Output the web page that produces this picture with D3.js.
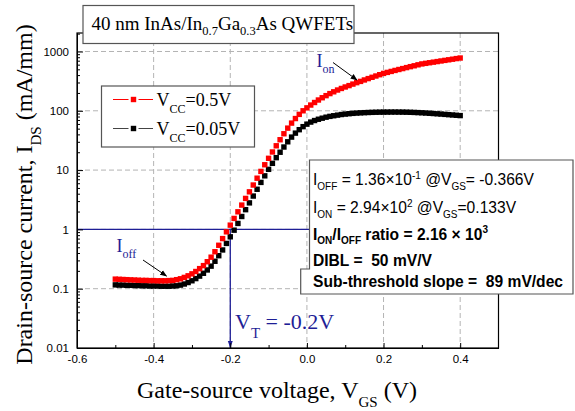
<!DOCTYPE html>
<html>
<head>
<meta charset="utf-8">
<script src="https://cdn.jsdelivr.net/npm/d3@7"></script>
<style>
  body { margin: 0; background: #fff; }
  text { white-space: pre; }
</style>
</head>
<body>
<svg id="chart" width="575" height="411"></svg>
<script>
// Gate-source voltage sweep (V)
const vgs = [
  -0.50, -0.49, -0.48, -0.47, -0.46, -0.45, -0.44, -0.43, -0.42, -0.41,
  -0.40, -0.39, -0.38, -0.37, -0.36, -0.35, -0.34, -0.33, -0.32, -0.31,
  -0.30, -0.29, -0.28, -0.27, -0.26, -0.25, -0.24, -0.23, -0.22, -0.21,
  -0.20, -0.19, -0.18, -0.17, -0.16, -0.15, -0.14, -0.13, -0.12, -0.11,
  -0.10, -0.09, -0.08, -0.07, -0.06, -0.05, -0.04, -0.03, -0.02, -0.01,
   0.00,  0.01,  0.02,  0.03,  0.04,  0.05,  0.06,  0.07,  0.08,  0.09,
   0.10,  0.11,  0.12,  0.13,  0.14,  0.15,  0.16,  0.17,  0.18,  0.19,
   0.20,  0.21,  0.22,  0.23,  0.24,  0.25,  0.26,  0.27,  0.28,  0.29,
   0.30,  0.31,  0.32,  0.33,  0.34,  0.35,  0.36,  0.37,  0.38,  0.39,
   0.40
];
// Drain current (mA/mm) at VCC = 0.5 V
const idsVcc05 = [
  0.145, 0.144, 0.143, 0.142, 0.141, 0.140, 0.139, 0.138, 0.138, 0.137,
  0.137, 0.136, 0.136, 0.136, 0.137, 0.138, 0.142, 0.147, 0.155, 0.165,
  0.178, 0.195, 0.218, 0.245, 0.285, 0.34, 0.42, 0.54, 0.70, 0.91,
  1.18, 1.53, 1.98, 2.57, 3.33, 4.3, 5.6, 7.3, 9.5, 12.3,
  15.8, 20.2, 25.7, 32.5, 41, 51, 62, 74, 87, 100,
  112, 125, 138, 152, 166, 180, 195, 209, 224, 238,
  252, 266, 282, 298, 313, 331, 349, 367, 386, 406,
  427, 444, 461, 479, 497, 515, 535, 555, 574, 596,
  617, 631, 646, 661, 676, 692, 708, 724, 741, 759,
  776
];
// Drain current (mA/mm) at VCC = 0.05 V
const idsVcc005 = [
  0.116, 0.115, 0.115, 0.114, 0.114, 0.113, 0.113, 0.112, 0.112, 0.111,
  0.111, 0.111, 0.110, 0.110, 0.110, 0.111, 0.112, 0.115, 0.120, 0.127,
  0.136, 0.148, 0.163, 0.182, 0.207, 0.24, 0.29, 0.36, 0.45, 0.58,
  0.75, 0.97, 1.26, 1.65, 2.15, 2.8, 3.65, 4.75, 6.2, 8.0,
  10.3, 13.0, 16.2, 20, 24.5, 30, 36, 42, 48, 54,
  59.5, 64.5, 68.5, 72, 75, 78, 80.5, 82.5, 84.5, 86.5,
  88, 89.3, 90.5, 91.5, 92.3, 93, 93.6, 94.1, 94.5, 94.8,
  95, 95.1, 95.2, 95.2, 95.1, 95, 94.7, 94.3, 93.8, 93.2,
  92.5, 91.7, 90.8, 89.9, 89, 88, 87, 86, 85, 84,
  83
];
const seriesNames = ["=0.5V", "=0.05V"];
const xTickValues = [-0.6, -0.4, -0.2, 0.0, 0.2, 0.4];
const xTickLabels = ["-0.6", "-0.4", "-0.2", "0.0", "0.2", "0.4"];
const xMinorTicks = [-0.5, -0.3, -0.1, 0.1, 0.3];
const yTickValues = [0.01, 0.1, 1, 10, 100, 1000];
const yTickLabels = ["0.01", "0.1", "1", "10", "100", "1000"];
const thresholdVoltage = -0.2;
const thresholdCurrent = 1;

const svg = d3.select("#chart");
const X0 = 77, X1 = 498.5, Y0 = 348, Y1 = 33;
const x = d3.scaleLinear().domain([-0.6, 0.5]).range([X0, X1]);
const y = d3.scaleLog().domain([0.01, 2050]).range([Y0, Y1]);

const SERIF = "'Liberation Serif', 'Times New Roman', serif";
const SANS = "'Liberation Sans', Arial, sans-serif";
const BLUE = "#1e1e96";

// text with sub/superscript runs: [string, baselineShift, fontSize]
function richText(parent, px, py, parts, attrs) {
  const t = parent.append("text").attr("x", px).attr("y", py);
  Object.entries(attrs || {}).forEach(([k, v]) => t.attr(k, v));
  let cur = 0;
  parts.forEach(([s, shift = 0, size = null]) => {
    const ts = t.append("tspan").text(s).attr("dy", shift - cur);
    if (size) ts.attr("font-size", size);
    cur = shift;
  });
  return t;
}

const defs = svg.append("defs");
defs.append("marker").attr("id", "arrowBlack")
  .attr("viewBox", "0 0 10 10").attr("refX", 9).attr("refY", 5)
  .attr("markerWidth", 7).attr("markerHeight", 7).attr("markerUnits", "userSpaceOnUse")
  .attr("orient", "auto")
  .append("path").attr("d", "M0,1 L10,5 L0,9 Z").attr("fill", "#000");
defs.append("marker").attr("id", "arrowBlue")
  .attr("viewBox", "0 0 10 10").attr("refX", 10).attr("refY", 5)
  .attr("markerWidth", 7).attr("markerHeight", 9).attr("markerUnits", "userSpaceOnUse")
  .attr("orient", "auto")
  .append("path").attr("d", "M0,1.5 L10,5 L0,8.5 Z").attr("fill", BLUE);

// dashed grid
const grid = svg.append("g").attr("stroke", "#b4b4b4").attr("stroke-width", 1)
  .attr("stroke-dasharray", "5,3");
xTickValues.filter(v => v > -0.6).forEach(v => {
  grid.append("line").attr("x1", x(v)).attr("x2", x(v)).attr("y1", Y1).attr("y2", Y0);
});
yTickValues.filter(v => v > 0.01).forEach(v => {
  grid.append("line").attr("x1", X0).attr("x2", X1).attr("y1", y(v)).attr("y2", y(v));
});

// threshold guide lines
svg.append("line").attr("x1", X0).attr("x2", X1)
  .attr("y1", y(thresholdCurrent)).attr("y2", y(thresholdCurrent))
  .attr("stroke", BLUE).attr("stroke-width", 1.3);
svg.append("line").attr("x1", x(thresholdVoltage)).attr("x2", x(thresholdVoltage))
  .attr("y1", y(thresholdCurrent)).attr("y2", Y0)
  .attr("stroke", BLUE).attr("stroke-width", 1.3)
  .attr("marker-end", "url(#arrowBlue)");

// axes (ticks point inward)
svg.append("g").attr("transform", `translate(0,${Y0})`)
  .call(d3.axisBottom(x).tickValues(xTickValues)
    .tickFormat((d, i) => xTickLabels[i]).tickSize(-5).tickSizeOuter(0).tickPadding(7));
svg.append("g").attr("transform", `translate(0,${Y0})`)
  .call(d3.axisBottom(x).tickValues(xMinorTicks).tickFormat("").tickSize(-3).tickSizeOuter(0));
svg.append("g").attr("transform", `translate(${X0},0)`)
  .call(d3.axisLeft(y).tickValues(yTickValues)
    .tickFormat((d, i) => yTickLabels[i]).tickSize(-6).tickSizeOuter(0).tickPadding(8));
const yMinor = y.ticks().filter(v => !yTickValues.includes(v));
svg.append("g").attr("transform", `translate(${X0},0)`)
  .call(d3.axisLeft(y).tickValues(yMinor).tickFormat("").tickSize(-3).tickSizeOuter(0));
svg.selectAll(".tick text").attr("font-family", SANS).attr("font-size", 11.5).attr("fill", "#000");
svg.selectAll(".domain").attr("stroke", "#000");
svg.selectAll(".tick line").attr("stroke", "#000");

// plot frame
svg.append("rect").attr("x", X0).attr("y", Y1).attr("width", X1 - X0).attr("height", Y0 - Y1)
  .attr("fill", "none").attr("stroke", "#000").attr("stroke-width", 1.2);

// data markers
const MS = 5.4;
[[idsVcc005, "#000"], [idsVcc05, "#ff0000"]].forEach(([vals, col]) => {
  svg.append("g").selectAll("rect").data(vals).join("rect")
    .attr("x", (d, i) => x(vgs[i]) - MS / 2)
    .attr("y", d => y(d) - MS / 2)
    .attr("width", MS).attr("height", MS)
    .attr("fill", col);
});

// title box
svg.append("rect").attr("x", 83).attr("y", 5.5).attr("width", 271).attr("height", 38)
  .attr("fill", "#fff").attr("stroke", "#555").attr("stroke-width", 1.2);
richText(svg, 91.5, 29.5, [
  ["40 nm InAs/In"], ["0.7", 5, 12.5], ["Ga"], ["0.3", 5, 12.5], ["As QWFETs"]
], { "font-family": SERIF, "font-size": 19 });

// legend
const lg = svg.append("g");
lg.append("rect").attr("x", 101.5).attr("y", 86).attr("width", 153).attr("height", 61)
  .attr("fill", "#fff").attr("stroke", "#555").attr("stroke-width", 1.2);
[["#ff0000", "#ff0000", 99.5], ["#000", "#444", 128.5]].forEach(([col, lineCol, ly], i) => {
  lg.append("line").attr("x1", 113).attr("x2", 128.5).attr("y1", ly).attr("y2", ly)
    .attr("stroke", lineCol).attr("stroke-width", 1);
  lg.append("line").attr("x1", 138.5).attr("x2", 153).attr("y1", ly).attr("y2", ly)
    .attr("stroke", lineCol).attr("stroke-width", 1);
  lg.append("rect").attr("x", 133.5 - MS / 2).attr("y", ly - MS / 2)
    .attr("width", MS).attr("height", MS).attr("fill", col);
  richText(lg, 156.5, ly + 6.3, [["V"], ["CC", 7.5, 12], [seriesNames[i]]],
    { "font-family": SERIF, "font-size": 18 });
});

// I_on / I_off callouts
richText(svg, 116.5, 251.5, [["I"], ["off", 6.5, 12]],
  { "font-family": SERIF, "font-size": 18, fill: BLUE });
svg.append("line").attr("x1", 143).attr("y1", 260).attr("x2", 166.5).attr("y2", 276)
  .attr("stroke", "#000").attr("stroke-width", 1).attr("marker-end", "url(#arrowBlack)");
richText(svg, 316.5, 66.5, [["I"], ["on", 6.5, 12]],
  { "font-family": SERIF, "font-size": 18, fill: BLUE });
svg.append("line").attr("x1", 333).attr("y1", 62.5).attr("x2", 357).attr("y2", 80)
  .attr("stroke", "#000").attr("stroke-width", 1).attr("marker-end", "url(#arrowBlack)");

// threshold voltage label
richText(svg, 235, 328.5, [["V"], ["T", 9.5, 15], [" = -0.2V"]],
  { "font-family": SERIF, "font-size": 22, fill: BLUE });

// parameter summary box (last row sits a little wider on the left)
const pb = svg.append("g");
pb.append("path")
  .attr("d", "M309.5,160 H573 V294 H300.7 V269 H309.5 Z")
  .attr("fill", "#fff").attr("stroke", "#555").attr("stroke-width", 1.2);
const sub = (s) => [s, 4.5, 10];
const sup = (s) => [s, -6.5, 10];
const pAttrs = { "font-family": SANS, "font-size": 15.6 };
const bAttrs = { "font-family": SANS, "font-size": 15.6, "font-weight": "bold" };
richText(pb, 313, 185, [["I"], sub("OFF"), [" = 1.36×10"], sup("-1"), [" @V"], sub("GS"), ["= -0.366V"]], pAttrs);
richText(pb, 313, 213, [["I"], sub("ON"), [" = 2.94×10"], sup("2"), [" @V"], sub("GS"), ["=0.133V"]], pAttrs);
richText(pb, 313, 239.5, [["I"], sub("ON"), ["/I"], sub("OFF"), [" ratio = 2.16 × 10"], sup("3")], bAttrs);
richText(pb, 313, 266, [["DIBL =  50 mV/V"]], bAttrs);
richText(pb, 313, 287, [["Sub-threshold slope =  89 mV/dec"]], bAttrs);

// axis titles
richText(svg, 137, 398, [["Gate-source voltage, V"], ["GS", 8.5, 15], [" (V)"]],
  { "font-family": SERIF, "font-size": 24 });
richText(svg, 0, 0, [["Drain-source current, I"], ["DS", 8.5, 15], [" (mA/mm)"]],
  { "font-family": SERIF, "font-size": 24, "text-anchor": "middle",
    transform: "translate(32,194.5) rotate(-90)" });
</script>
</body>
</html>
